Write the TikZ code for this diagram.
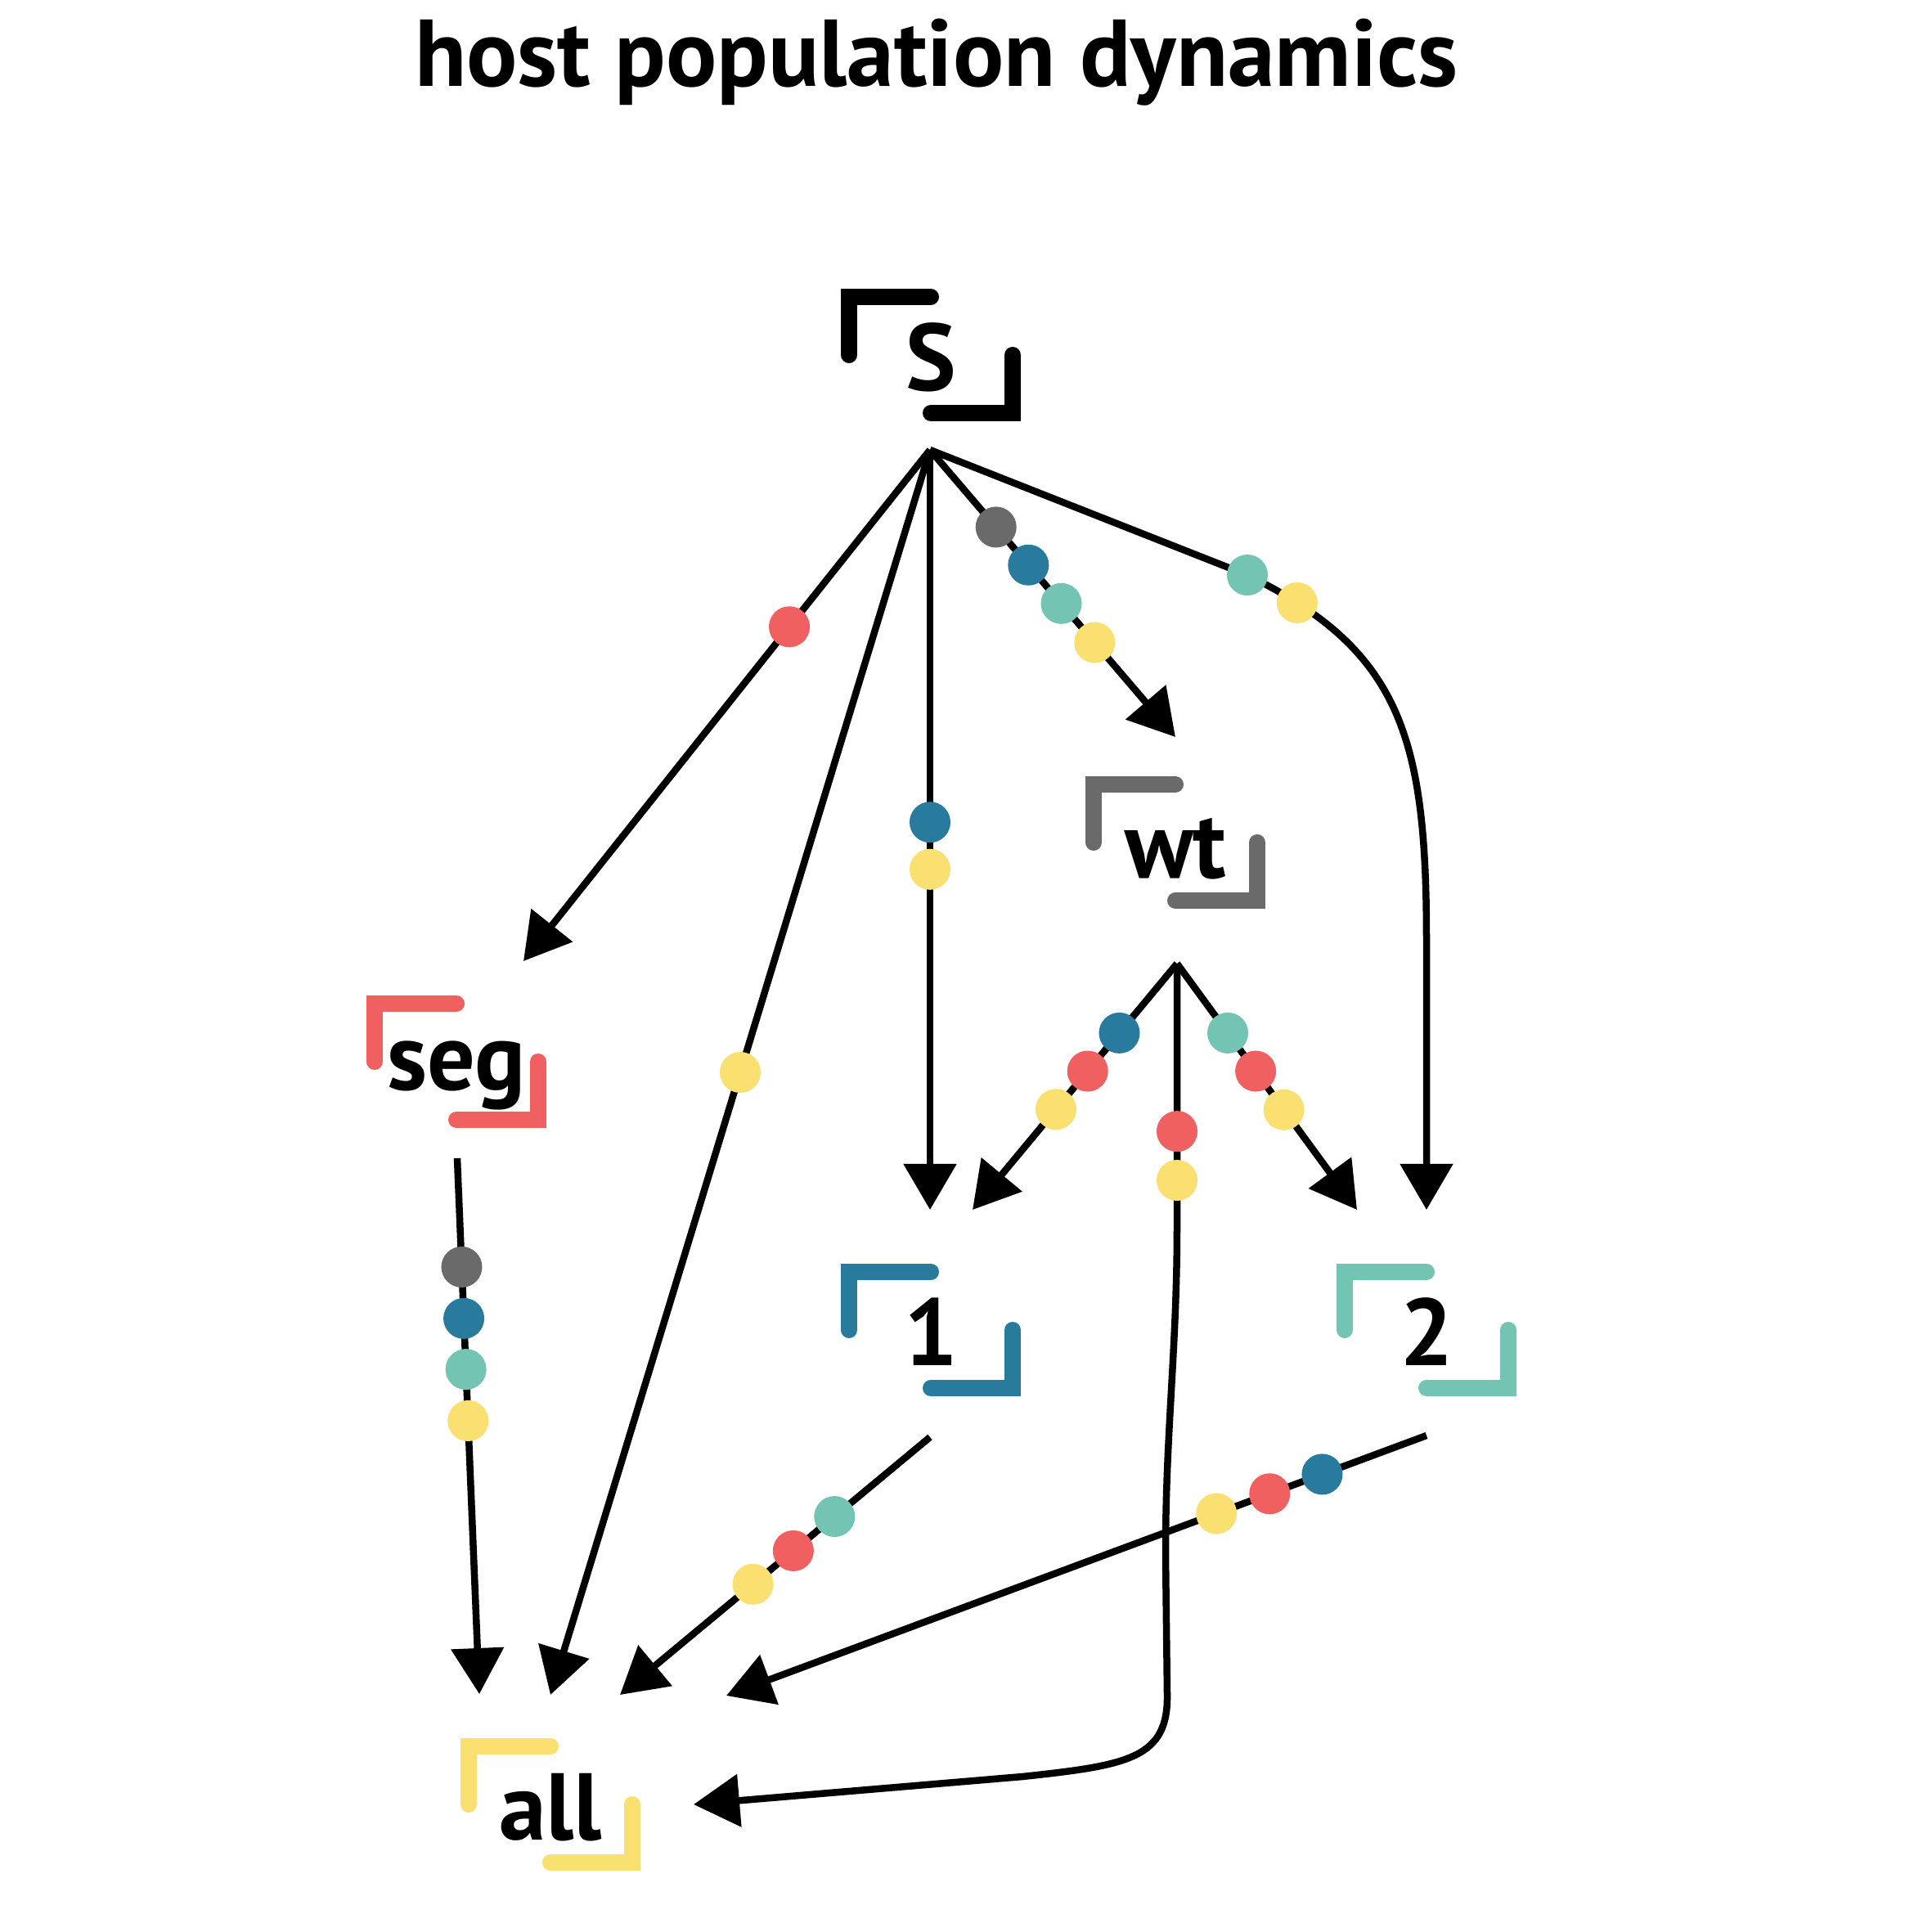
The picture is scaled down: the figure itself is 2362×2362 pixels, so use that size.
\documentclass[tikz,border=0pt]{standalone}
\usepackage{fontspec}
\setmainfont{PT Sans}
\usetikzlibrary{arrows.meta}
\definecolor{cred}{RGB}{240,96,96}
\definecolor{cblue}{RGB}{41,123,158}
\definecolor{cteal}{RGB}{116,196,180}
\definecolor{cyellow}{RGB}{250,224,112}
\definecolor{cgray}{RGB}{106,106,106}
\begin{document}
\begin{tikzpicture}[x=0.01cm, y=-0.01cm,
  lbl/.style={font=\bfseries\fontsize{33}{33}\selectfont},
  box/.style={lbl, minimum width=2cm, minimum height=1.42cm, inner sep=0pt, outer sep=0pt, text height=1cm, text depth=0.14cm},
  brk/.style={line width=0.2cm, line cap=round},
  link/.style={line width=0.085cm, -{Triangle[length=0.56cm,width=0.63cm]}},
  bead/.style={circle, fill=#1, minimum size=0.5cm, inner sep=0pt, outer sep=0pt},
]
\useasboundingbox (0,0) rectangle (2362,2362);

\node[lbl, anchor=base] (title) at (1145,105) {host population dynamics};

\node[box] (S) at (1138,434) {S};
\node[box] (wt) at (1437,1030) {wt};
\node[box, text height=0.9cm, text depth=0.22cm] (seg) at (558,1298) {seg};
\node[box] (n1) at (1138,1626) {1};
\node[box] (n2) at (1744,1626) {2};
\node[box] (all) at (673,2206) {all};

\foreach \n/\c in {S/black, wt/cgray, seg/cred, n1/cblue, n2/cteal, all/cyellow} {
  \draw[brk, \c] (\n.west) -- (\n.north west) -- (\n.north);
  \draw[brk, \c] (\n.south) -- (\n.south east) -- (\n.east);
}

% connector end points
\coordinate (S-out) at (1137,550);
\coordinate (S-seg) at (640,1175);
\coordinate (S-all) at (673,2072);
\coordinate (S-n1) at (1137,1479);
\coordinate (S-wt) at (1437,901);
\coordinate (S-n2) at (1744,1479);
\coordinate (wt-out) at (1439,1178);
\coordinate (wt-n1) at (1189,1479);
\coordinate (wt-n2) at (1659,1479);
\coordinate (wt-all) at (848,2206);
\coordinate (seg-out) at (559,1416);
\coordinate (seg-all) at (586,2071);
\coordinate (n1-out) at (1137,1757);
\coordinate (n1-all) at (758,2072);
\coordinate (n2-out) at (1744,1755);
\coordinate (n2-all) at (888,2073);

% from S
\draw[link] (S-out) -- node[bead=cred, pos=0.346] (b1) {} (S-seg);
\draw[link] (S-out) -- node[bead=cyellow, pos=0.5] (b2) {} (S-all);
\draw[link] (S-out) -- node[bead=cblue, pos=0.490] (b3) {} node[bead=cyellow, pos=0.552] (b4) {} (S-n1);
\draw[link] (S-out) -- node[bead=cgray, pos=0.269] (b5) {} node[bead=cblue, pos=0.401] (b6) {}
  node[bead=cteal, pos=0.535] (b7) {} node[bead=cyellow, pos=0.671] (b8) {} (S-wt);
\draw[link] (S-out) -- node[bead=cteal, pos=1] (b9) {} (1525,703)
  .. controls (1712,795) and (1744,900) .. node[bead=cyellow, pos=0.12] (b10) {} (1744,1150) -- (S-n2);

% from wt
\draw[link] (wt-out) -- node[bead=cblue, pos=0.282] (b11) {} node[bead=cred, pos=0.437] (b12) {}
  node[bead=cyellow, pos=0.592] (b13) {} (wt-n1);
\draw[link] (wt-out) -- node[bead=cteal, pos=0.282] (b14) {} node[bead=cred, pos=0.437] (b15) {}
  node[bead=cyellow, pos=0.594] (b16) {} (wt-n2);
\draw[link] (wt-out) -- node[bead=cred, pos=0.637] (b17) {} node[bead=cyellow, pos=0.823] (b18) {} (1439,1500)
  .. controls (1439,1650) and (1425,1750) .. (1425,1900) -- (1427,2070)
  .. controls (1429,2150) and (1380,2158) .. (1250,2172) -- (wt-all);

% from seg
\draw[link] (seg-out) -- node[bead=cgray, pos=0.203] (b19) {} node[bead=cblue, pos=0.299] (b20) {}
  node[bead=cteal, pos=0.394] (b21) {} node[bead=cyellow, pos=0.490] (b22) {} (seg-all);

% from 1
\draw[link] (n1-out) -- node[bead=cteal, pos=0.308] (b23) {} node[bead=cred, pos=0.441] (b24) {}
  node[bead=cyellow, pos=0.571] (b25) {} (n1-all);

% from 2
\draw[link] (n2-out) -- node[bead=cblue, pos=0.149] (b26) {} node[bead=cred, pos=0.224] (b27) {}
  node[bead=cyellow, pos=0.300] (b28) {} (n2-all);
\end{tikzpicture}
\end{document}
